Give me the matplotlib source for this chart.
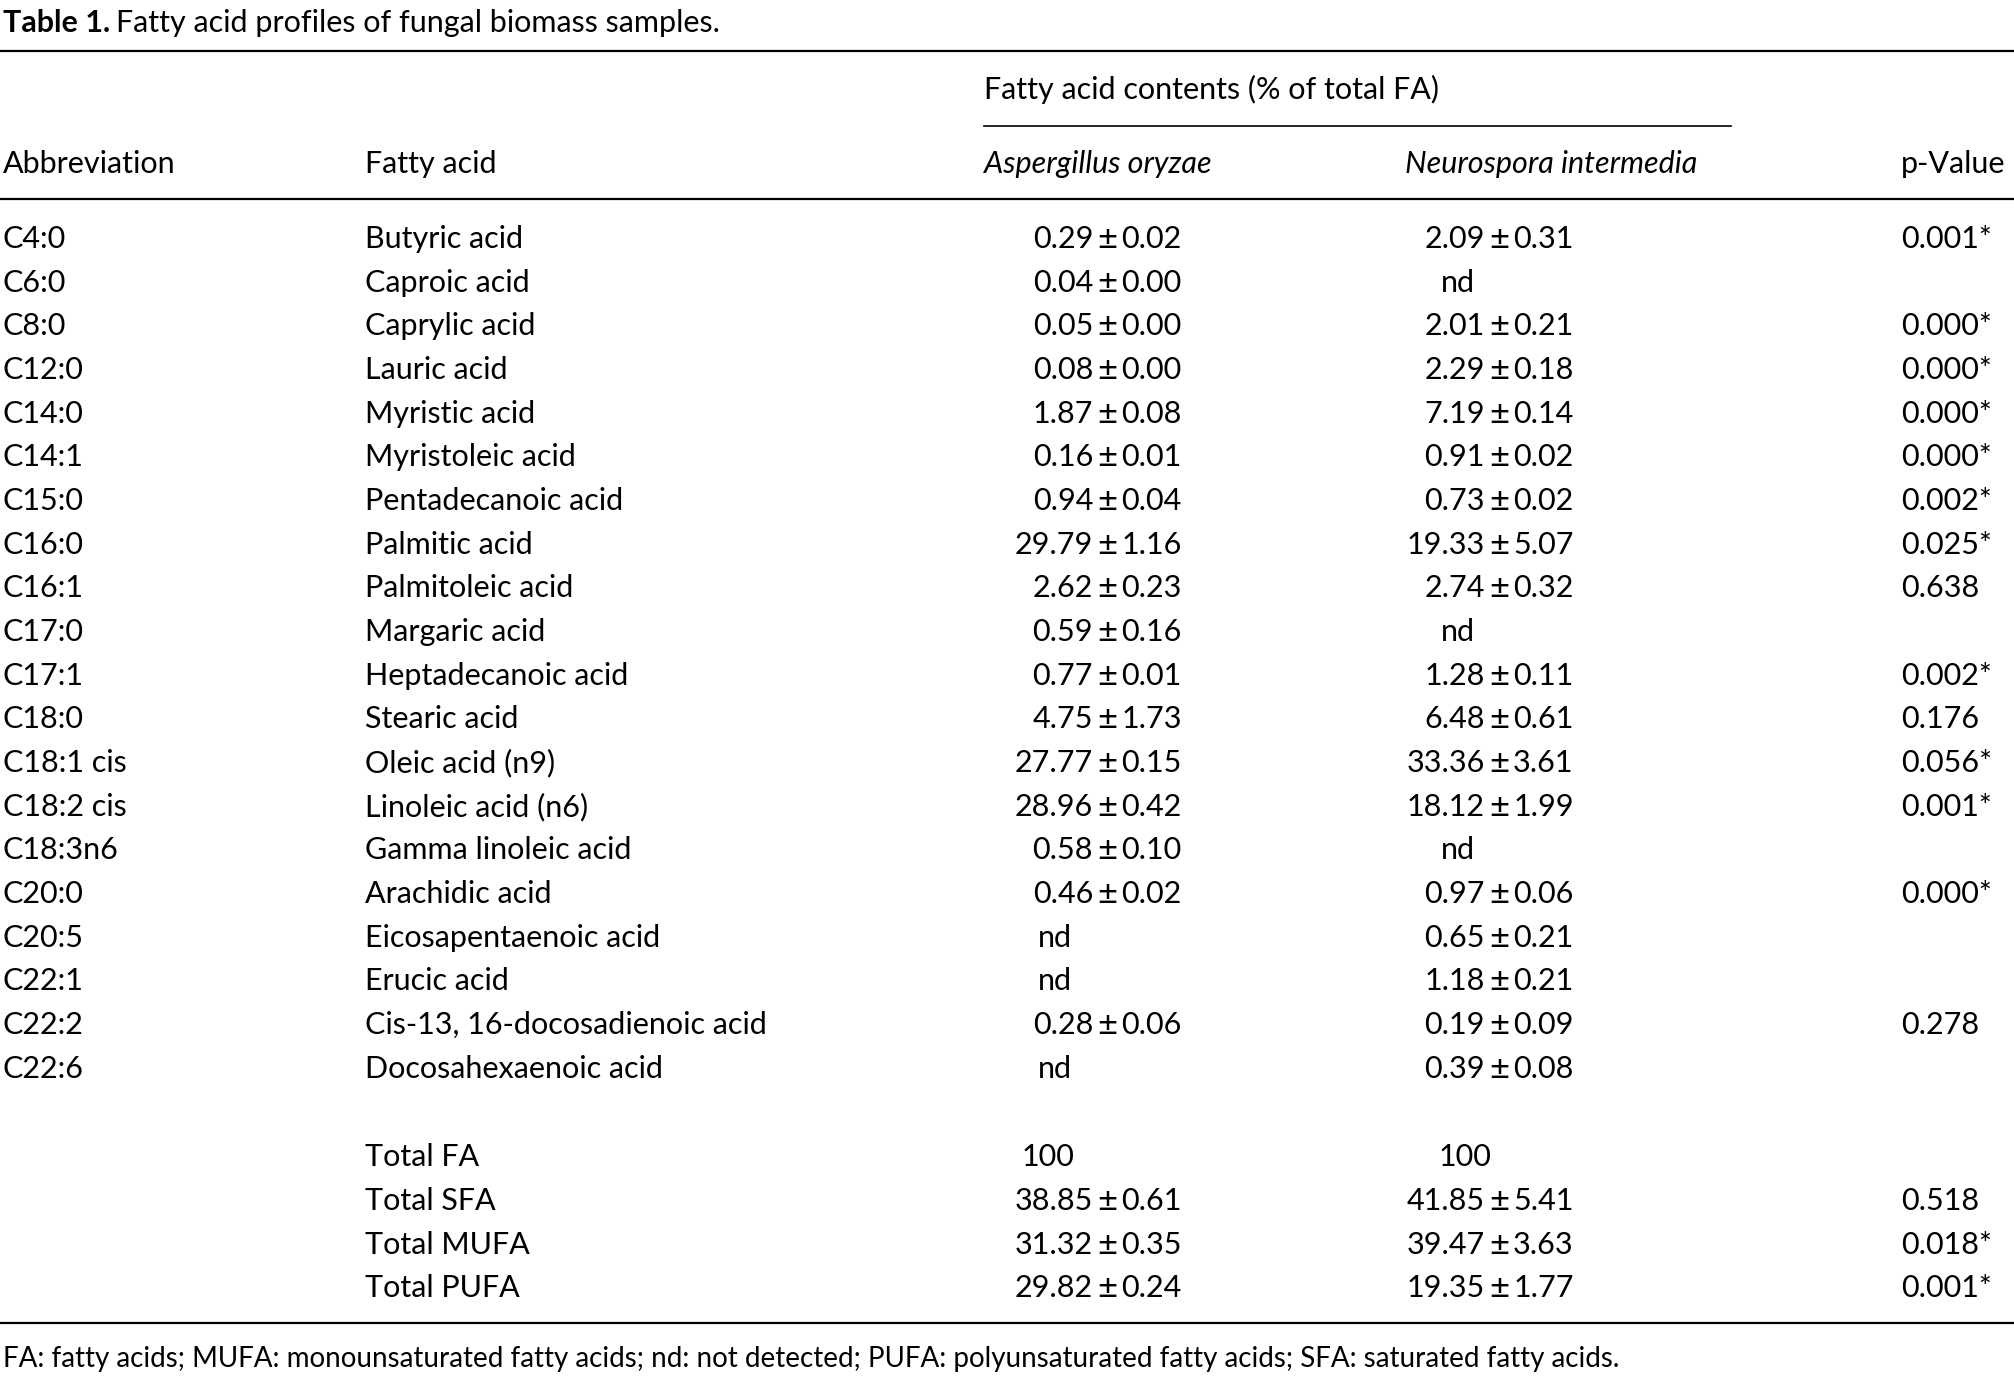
import matplotlib
matplotlib.use("Agg")
import matplotlib.pyplot as plt
from matplotlib.lines import Line2D

abbrev = ["C4:0", "C6:0", "C8:0", "C12:0", "C14:0", "C14:1", "C15:0", "C16:0", "C16:1", "C17:0",
          "C17:1", "C18:0", "C18:1 cis", "C18:2 cis", "C18:3n6", "C20:0", "C20:5", "C22:1", "C22:2", "C22:6",
          "", "", "", ""]
fatty_acid = ["Butyric acid", "Caproic acid", "Caprylic acid", "Lauric acid", "Myristic acid",
              "Myristoleic acid", "Pentadecanoic acid", "Palmitic acid", "Palmitoleic acid", "Margaric acid",
              "Heptadecanoic acid", "Stearic acid", "Oleic acid (n9)", "Linoleic acid (n6)",
              "Gamma linoleic acid", "Arachidic acid", "Eicosapentaenoic acid", "Erucic acid",
              "Cis-13, 16-docosadienoic acid", "Docosahexaenoic acid",
              "Total FA", "Total SFA", "Total MUFA", "Total PUFA"]
oryzae = ["0.29±0.02", "0.04±0.00", "0.05±0.00", "0.08±0.00", "1.87±0.08", "0.16±0.01", "0.94±0.04",
          "29.79±1.16", "2.62±0.23", "0.59±0.16", "0.77±0.01", "4.75±1.73", "27.77±0.15", "28.96±0.42",
          "0.58±0.10", "0.46±0.02", "nd", "nd", "0.28±0.06", "nd",
          "100", "38.85±0.61", "31.32±0.35", "29.82±0.24"]
intermedia = ["2.09±0.31", "nd", "2.01±0.21", "2.29±0.18", "7.19±0.14", "0.91±0.02", "0.73±0.02",
              "19.33±5.07", "2.74±0.32", "nd", "1.28±0.11", "6.48±0.61", "33.36±3.61", "18.12±1.99",
              "nd", "0.97±0.06", "0.65±0.21", "1.18±0.21", "0.19±0.09", "0.39±0.08",
              "100", "41.85±5.41", "39.47±3.63", "19.35±1.77"]
pvalue = ["0.001*", "", "0.000*", "0.000*", "0.000*", "0.000*", "0.002*", "0.025*", "0.638", "",
          "0.002*", "0.176", "0.056*", "0.001*", "", "0.000*", "", "", "0.278", "",
          "", "0.518", "0.018*", "0.001*"]

W, H = 1568, 1072
fig = plt.figure(figsize=(20.14, 13.77), dpi=100)
plt.rcParams["font.family"] = ["Lato", "DejaVu Sans"]
FS = 22

def T(x, y, s, **kw):
    kw.setdefault("fontsize", FS)
    kw.setdefault("va", "center")
    fig.text(x / W, 1 - (y + 2) / H, s, **kw)

def hline(y, x0=0, x1=W, lw=1.6):
    fig.add_artist(Line2D([x0 / W, x1 / W], [1 - y / H, 1 - y / H], color="black", lw=lw))

T(2, 16, "Table 1.", fontweight="bold")
T(90, 16, "Fatty acid profiles of fungal biomass samples.")
hline(40)
T(766, 68, "Fatty acid contents (% of total FA)")
hline(98, 766, 1348, lw=1.2)
T(2, 126, "Abbreviation")
T(284, 126, "Fatty acid")
T(766, 126, "Aspergillus oryzae", style="italic")
T(1094, 126, "Neurospora intermedia", style="italic")
T(1480, 126, "p-Value")
hline(155)

def value(x_pm, y, s, nd_x, hundred_x):
    if s == "nd":
        T(nd_x, y, s)
    elif s == "100":
        T(hundred_x, y, s)
    else:
        a, b = s.split("±")
        T(x_pm - 11, y, a, ha="right")
        T(x_pm, y, "±", ha="center", fontsize=FS + 3)
        T(x_pm + 11, y, b, ha="left")

for i in range(len(fatty_acid)):
    y = 184 + 34 * i if i < 20 else 899 + 34 * (i - 20)
    T(2, y, abbrev[i])
    T(284, y, fatty_acid[i])
    value(862, y, oryzae[i], 808, 795)
    value(1167, y, intermedia[i], 1122, 1120)
    T(1480, y, pvalue[i])

hline(1030)
T(2, 1056, "FA: fatty acids; MUFA: monounsaturated fatty acids; nd: not detected; "
           "PUFA: polyunsaturated fatty acids; SFA: saturated fatty acids.", fontsize=20)

fig.savefig("out.png", dpi=100, facecolor="white")
